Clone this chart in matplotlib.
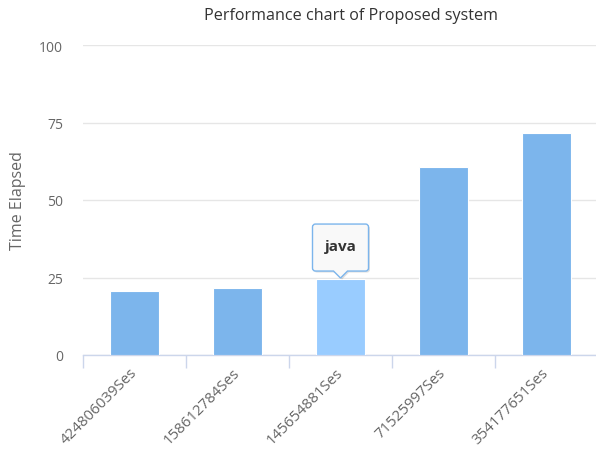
import numpy as np
import matplotlib
matplotlib.use("Agg")
import matplotlib.pyplot as plt
from matplotlib.path import Path
from matplotlib.patches import PathPatch
import matplotlib.transforms as mtransforms

plt.rcParams['font.family'] = ['Open Sans', 'DejaVu Sans']

# data
sessions = ['424806039Ses', '158612784Ses', '145654881Ses', '71525997Ses', '354177651Ses']
elapsed = [20.5, 21.5, 24.5, 60.5, 71.5]
hover_idx = 2
hover_text = 'java'
y_ticks = [0, 25, 50, 75, 100]

W, H = 596, 452
fig = plt.figure(figsize=(W / 100, H / 100), dpi=100)
ax = fig.add_axes([83 / W, 96 / H, 515 / W, 310 / H])

x = np.arange(len(sessions))
colors = ['#7cb5ec'] * len(sessions)
colors[hover_idx] = '#99ccff'
ax.bar(x, elapsed, width=0.48, color=colors, edgecolor='white', linewidth=0.8, zorder=3)

ax.set_xlim(-0.5, len(sessions) - 0.5)
ax.set_ylim(0, 100)
ax.set_yticks(y_ticks)
ax.yaxis.grid(True, color='#e6e6e6', linewidth=1)
ax.set_axisbelow(True)
ax.tick_params(axis='y', length=0, pad=14.4, labelsize=10, labelcolor='#666666')

# category labels at centres, tick marks at category boundaries
ax.set_xticks(x)
ax.set_xticklabels(sessions, rotation=45, ha='right', va='center', rotation_mode='anchor')
ax.tick_params(axis='x', which='major', length=0, pad=11, labelsize=10.8, labelcolor='#666666')
ax.set_xticks(np.arange(len(sessions) + 1) - 0.5, minor=True)
ax.tick_params(axis='x', which='minor', length=9, width=1, color='#ccd6eb', direction='out')

for side in ['top', 'right', 'left']:
    ax.spines[side].set_visible(False)
ax.spines['bottom'].set_color('#ccd6eb')
ax.spines['bottom'].set_linewidth(1)

fig.text(18 / W, 1 - 201 / H, 'Time Elapsed', rotation=90, ha='center', va='center',
         fontsize=11.5, color='#666666')
fig.text(351 / W, 1 - 16 / H, 'Performance chart of Proposed system',
         ha='center', va='center', fontsize=11.6, color='#333333')

# tooltip with callout pointing at the hovered bar (pixel offsets from bar top)
trans = mtransforms.IdentityTransform() + mtransforms.ScaledTranslation(
    x[hover_idx], elapsed[hover_idx], ax.transData)
l, r, b, t, rr = -28, 28, 8, 55, 3
verts = [(l + rr, b), (-7, b), (0, 1), (7, b), (r - rr, b), (r, b), (r, b + rr),
         (r, t - rr), (r, t), (r - rr, t), (l + rr, t), (l, t), (l, t - rr),
         (l, b + rr), (l, b), (l + rr, b)]
codes = [Path.MOVETO, Path.LINETO, Path.LINETO, Path.LINETO, Path.LINETO,
         Path.CURVE3, Path.CURVE3, Path.LINETO, Path.CURVE3, Path.CURVE3,
         Path.LINETO, Path.CURVE3, Path.CURVE3, Path.LINETO, Path.CURVE3, Path.CURVE3]
path = Path(verts, codes)
shadow_trans = trans + mtransforms.Affine2D().translate(1.5, -1.5)
ax.add_patch(PathPatch(path, transform=shadow_trans, facecolor='#000000', alpha=0.12,
                       edgecolor='none', zorder=5, clip_on=False))
ax.add_patch(PathPatch(path, transform=trans, facecolor='#f9f9f9', edgecolor='#7cb5ec',
                       linewidth=1, zorder=6, clip_on=False))
ax.text(0, 33, hover_text, transform=trans, ha='center', va='center',
        fontsize=11, fontweight='bold', color='#333333', zorder=7)

fig.savefig('out.png', dpi=100)
